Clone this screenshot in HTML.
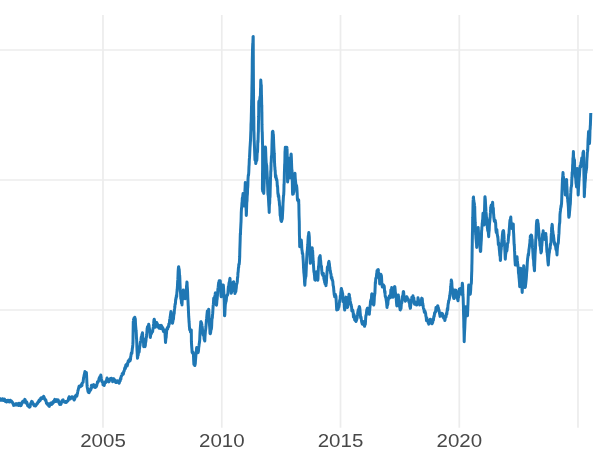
<!DOCTYPE html>
<html><head><meta charset="utf-8"><title>chart</title>
<style>
html,body{margin:0;padding:0;background:#fff;}
body{width:600px;height:450px;overflow:hidden;position:relative;font-family:"Liberation Sans",sans-serif;}
svg{position:absolute;left:0;top:0;display:block;will-change:transform;}
.t{font-family:"Liberation Sans",sans-serif;font-size:19.1px;fill:#484848;text-anchor:middle;}
</style></head><body>
<svg width="600" height="450" viewBox="0 0 600 450">
<rect width="600" height="450" fill="#ffffff"/>
<g stroke="#ececec" stroke-width="1.7" fill="none">
<line x1="103" y1="15" x2="103" y2="427.8"/>
<line x1="221.8" y1="15" x2="221.8" y2="427.8"/>
<line x1="340.5" y1="15" x2="340.5" y2="427.8"/>
<line x1="459.3" y1="15" x2="459.3" y2="427.8"/>
<line x1="578" y1="15" x2="578" y2="427.8"/>
<line x1="0" y1="50" x2="593" y2="50"/>
<line x1="0" y1="180" x2="593" y2="180"/>
<line x1="0" y1="310" x2="593" y2="310"/>
</g>
<polyline points="-2.00,399.50 -1.83,399.40 -1.67,399.32 -1.50,398.75 -1.33,399.60 -1.17,400.40 -1.00,400.64 -0.83,399.68 -0.67,400.11 -0.50,399.01 -0.33,398.47 -0.17,398.76 0.00,399.20 0.17,399.59 0.33,399.31 0.50,399.87 0.67,399.62 0.83,399.55 1.00,400.17 1.17,400.03 1.33,399.85 1.50,399.46 1.67,399.93 1.83,400.13 2.00,398.92 2.17,399.02 2.33,399.54 2.50,398.70 2.67,399.17 2.83,400.16 3.00,400.25 3.17,400.54 3.33,400.37 3.50,399.70 3.67,400.60 3.83,399.59 4.00,400.59 4.17,399.28 4.33,399.53 4.50,399.10 4.67,399.52 4.83,399.70 5.00,400.80 5.17,401.39 5.34,400.56 5.51,401.45 5.68,400.34 5.85,401.15 6.02,401.26 6.19,400.61 6.36,401.22 6.53,401.68 6.70,402.00 6.87,401.28 7.03,401.73 7.20,400.86 7.37,401.59 7.53,400.39 7.70,400.26 7.87,400.71 8.03,401.30 8.20,400.50 8.37,401.00 8.53,400.97 8.70,400.81 8.87,400.42 9.03,400.55 9.20,400.80 9.36,401.95 9.52,401.43 9.68,401.19 9.84,400.74 10.00,401.77 10.16,400.77 10.32,400.82 10.48,400.30 10.64,400.35 10.80,401.70 10.97,401.50 11.13,401.52 11.30,400.96 11.47,401.12 11.63,401.29 11.80,401.59 11.97,401.62 12.13,401.79 12.30,401.96 12.47,402.38 12.63,403.01 12.80,403.30 12.97,403.38 13.13,404.09 13.30,404.20 13.47,404.65 13.63,405.37 13.80,405.33 13.97,405.30 14.13,405.27 14.30,405.09 14.47,405.20 14.63,404.32 14.80,404.92 14.97,405.10 15.13,405.07 15.30,405.03 15.47,404.84 15.63,404.97 15.80,403.70 15.97,403.57 16.14,403.76 16.31,404.70 16.48,404.94 16.65,404.94 16.82,404.94 16.99,404.94 17.16,404.94 17.33,404.94 17.50,403.70 17.67,404.14 17.83,404.36 18.00,404.63 18.17,404.82 18.33,405.36 18.50,405.45 18.67,404.79 18.83,403.72 19.00,403.25 19.17,403.34 19.33,403.43 19.50,404.47 19.67,405.05 19.83,405.14 20.00,405.00 20.17,404.17 20.33,405.10 20.50,405.37 20.67,405.73 20.83,404.96 21.00,405.48 21.17,405.35 21.33,404.75 21.50,404.23 21.67,402.92 21.83,402.76 22.00,403.50 22.17,402.02 22.33,401.80 22.50,401.58 22.67,401.36 22.83,401.79 23.00,401.64 23.17,401.80 23.33,401.14 23.50,402.00 23.67,401.86 23.83,400.78 24.00,401.60 24.17,401.53 24.33,400.46 24.50,400.20 24.67,400.13 24.83,399.39 25.00,399.94 25.17,399.70 25.33,401.08 25.50,401.47 25.67,401.84 25.83,402.94 26.00,402.85 26.17,401.47 26.33,401.65 26.50,402.50 26.67,401.87 26.83,402.36 27.00,402.39 27.17,404.09 27.33,403.59 27.50,405.01 27.67,405.59 27.83,405.85 28.00,405.10 28.17,405.36 28.33,405.17 28.50,405.77 28.67,406.49 28.83,406.57 29.00,406.90 29.17,406.78 29.33,407.00 29.50,407.30 29.67,406.86 29.83,406.78 30.00,406.72 30.17,406.66 30.33,405.05 30.50,404.08 30.67,403.51 30.83,403.14 31.00,402.77 31.17,402.41 31.33,402.04 31.50,401.67 31.67,401.31 31.83,401.48 32.00,401.80 32.17,401.88 32.33,401.85 32.50,402.43 32.67,402.46 32.83,403.46 33.00,403.70 33.17,403.64 33.33,404.47 33.50,403.87 33.67,404.28 33.83,404.98 34.00,405.37 34.17,405.57 34.33,405.76 34.50,405.52 34.67,405.70 34.83,405.58 35.00,405.30 35.17,405.52 35.33,405.20 35.50,405.95 35.67,405.76 35.83,405.57 36.00,405.37 36.17,405.18 36.33,404.98 36.50,404.36 36.67,403.78 36.83,403.64 37.00,403.90 37.17,404.01 37.33,403.71 37.50,402.84 37.67,402.62 37.83,402.79 38.00,401.80 38.17,401.64 38.33,401.57 38.50,402.02 38.67,401.94 38.83,401.79 39.00,401.09 39.17,400.04 39.33,400.11 39.50,399.91 39.67,400.20 39.83,400.15 40.00,400.03 40.17,400.50 40.33,399.98 40.50,399.70 40.67,398.38 40.83,398.11 41.00,397.96 41.17,398.36 41.33,398.58 41.50,398.80 41.67,397.89 41.83,397.93 42.00,397.78 42.17,397.94 42.33,397.92 42.50,397.90 42.67,398.35 42.83,398.14 43.00,397.60 43.17,398.04 43.33,397.09 43.50,397.12 43.67,396.20 43.83,396.99 44.00,396.80 44.17,397.91 44.33,398.50 44.50,398.14 44.67,399.20 44.83,398.84 45.00,398.93 45.17,400.12 45.33,399.88 45.50,400.00 45.67,400.27 45.83,399.84 46.00,401.43 46.17,401.12 46.33,402.63 46.50,403.30 46.67,403.38 46.83,403.55 47.00,403.66 47.17,404.12 47.33,403.68 47.50,403.51 47.67,404.18 47.83,404.02 48.00,403.56 48.17,403.91 48.33,404.44 48.50,404.13 48.67,405.97 48.83,405.95 49.00,406.20 49.17,406.21 49.33,406.40 49.50,405.30 49.67,405.12 49.83,404.25 50.00,403.67 50.17,403.96 50.33,404.12 50.50,403.27 50.67,403.14 50.83,403.00 51.00,402.87 51.17,403.20 51.33,403.12 51.50,403.97 51.67,404.39 51.83,404.21 52.00,402.85 52.17,403.27 52.33,403.59 52.50,403.71 52.67,402.54 52.83,403.36 53.00,402.50 53.17,401.53 53.33,402.54 53.50,402.57 53.67,402.08 53.83,402.30 54.00,401.47 54.17,401.53 54.33,400.50 54.50,399.99 54.67,399.77 54.83,399.39 55.00,400.20 55.17,400.87 55.33,401.00 55.50,401.54 55.67,401.56 55.83,401.21 56.00,400.83 56.17,400.14 56.33,400.25 56.50,399.96 56.67,399.85 56.83,400.27 57.00,399.89 57.17,400.55 57.33,400.85 57.50,401.14 57.67,400.75 57.83,400.40 58.00,400.60 58.17,399.86 58.33,400.36 58.50,400.88 58.67,401.11 58.83,401.83 59.00,403.05 59.17,402.89 59.33,403.54 59.50,404.07 59.67,404.32 59.83,404.11 60.00,403.77 60.17,403.89 60.33,403.87 60.50,404.30 60.67,404.46 60.83,403.40 61.00,403.43 61.17,403.87 61.33,402.52 61.50,402.46 61.67,402.31 61.83,400.98 62.00,400.71 62.17,400.66 62.33,400.83 62.50,400.52 62.67,399.95 62.83,400.57 63.00,400.20 63.17,399.86 63.33,400.89 63.50,401.61 63.67,401.63 63.83,401.59 64.00,401.90 64.17,401.98 64.33,401.76 64.50,402.03 64.67,402.19 64.83,402.26 65.00,402.08 65.17,401.69 65.33,401.63 65.50,401.88 65.67,401.77 65.83,402.50 66.00,401.50 66.17,402.60 66.33,402.42 66.50,402.23 66.67,402.05 66.83,401.87 67.00,401.68 67.17,401.50 67.33,401.32 67.50,401.13 67.67,400.74 67.83,400.54 68.00,400.40 68.17,400.40 68.33,400.22 68.50,398.49 68.67,397.83 68.83,398.04 69.00,398.20 69.17,396.81 69.33,397.31 69.50,397.66 69.67,397.78 69.83,398.48 70.00,398.87 70.17,398.97 70.33,398.87 70.50,398.81 70.67,397.93 70.83,397.85 71.00,397.93 71.17,397.68 71.33,397.18 71.50,397.59 71.67,397.17 71.83,396.77 72.00,396.80 72.17,397.38 72.33,396.96 72.50,397.04 72.67,397.88 72.83,397.68 73.00,397.34 73.17,397.28 73.33,397.10 73.50,398.94 73.67,398.92 73.83,399.14 74.00,399.87 74.17,400.01 74.33,399.13 74.50,399.00 74.67,399.43 74.83,397.98 75.00,398.36 75.17,397.31 75.33,397.20 75.50,395.84 75.67,395.54 75.83,395.47 76.00,395.12 76.17,396.48 76.33,395.78 76.50,395.94 76.67,396.30 76.83,396.02 77.00,395.67 77.17,394.07 77.33,393.82 77.50,393.50 77.67,391.85 77.83,391.32 78.00,390.15 78.17,390.15 78.33,389.23 78.50,388.50 78.67,387.91 78.83,387.65 79.00,386.96 79.17,386.18 79.33,385.96 79.50,386.82 79.67,386.46 79.83,386.77 80.00,386.50 80.17,385.93 80.34,386.30 80.51,386.80 80.68,386.37 80.85,385.96 81.02,385.62 81.19,385.16 81.36,384.49 81.53,384.42 81.70,385.80 81.86,385.15 82.02,385.44 82.18,382.97 82.34,382.89 82.50,382.84 82.66,383.03 82.82,382.56 82.98,382.58 83.14,382.07 83.30,380.00 83.46,379.14 83.62,377.39 83.79,376.88 83.95,376.89 84.11,375.11 84.27,374.80 84.44,374.54 84.60,373.00 84.77,373.37 84.95,371.43 85.12,373.17 85.30,372.20 85.46,372.66 85.61,373.93 85.77,373.37 85.93,373.13 86.09,373.38 86.24,373.92 86.40,372.60 86.56,375.04 86.72,378.50 86.88,382.42 87.04,385.25 87.20,387.00 87.37,387.94 87.54,388.43 87.71,389.71 87.89,390.85 88.06,391.59 88.23,391.73 88.40,391.70 88.56,392.38 88.72,391.93 88.88,392.33 89.04,392.61 89.20,391.80 89.36,392.37 89.52,391.28 89.68,390.32 89.84,390.96 90.00,390.50 90.17,390.58 90.34,389.29 90.51,389.70 90.68,389.84 90.85,389.41 91.02,388.91 91.19,387.00 91.36,386.36 91.53,385.30 91.70,386.00 91.87,386.16 92.03,387.32 92.20,387.25 92.37,387.19 92.53,387.12 92.70,387.05 92.87,386.46 93.03,385.86 93.20,385.62 93.37,384.75 93.53,384.88 93.70,384.68 93.87,385.12 94.03,385.13 94.20,385.00 94.36,385.61 94.52,386.27 94.68,386.96 94.84,387.13 95.00,387.30 95.16,387.47 95.32,386.91 95.48,387.09 95.64,386.62 95.80,386.70 95.97,386.21 96.14,386.98 96.31,386.35 96.48,386.17 96.65,385.67 96.82,385.17 96.99,384.35 97.16,383.18 97.33,383.40 97.50,381.70 97.67,381.66 97.84,382.39 98.01,382.20 98.18,381.86 98.35,381.52 98.52,381.18 98.69,380.71 98.86,379.50 99.03,379.03 99.20,378.30 99.36,377.67 99.52,378.03 99.68,377.50 99.84,376.74 100.00,377.43 100.16,377.85 100.32,377.55 100.48,376.84 100.64,375.83 100.80,375.00 100.97,376.04 101.14,377.06 101.31,378.42 101.49,379.40 101.66,381.16 101.83,380.51 102.00,381.70 102.17,381.24 102.34,381.51 102.51,381.79 102.68,381.90 102.85,383.16 103.02,384.77 103.19,384.71 103.36,384.59 103.53,384.35 103.70,385.00 103.86,384.97 104.02,384.98 104.18,385.57 104.35,384.22 104.51,384.14 104.67,382.69 104.83,382.54 104.99,381.99 105.15,382.66 105.32,381.81 105.48,382.06 105.64,382.05 105.80,382.50 105.97,382.34 106.15,381.97 106.33,380.91 106.50,380.56 106.67,379.96 106.85,378.88 107.03,378.02 107.20,378.70 107.37,380.39 107.53,380.57 107.70,380.75 107.87,380.92 108.03,381.10 108.20,381.27 108.37,381.45 108.53,381.62 108.70,381.74 108.87,381.16 109.03,381.88 109.20,380.80 109.36,381.40 109.52,380.08 109.68,379.45 109.84,379.04 110.00,379.11 110.16,379.73 110.32,379.05 110.48,378.49 110.64,379.06 110.80,379.20 110.97,379.10 111.14,378.62 111.31,378.34 111.48,378.32 111.65,378.61 111.82,379.07 111.99,378.80 112.16,378.96 112.33,379.57 112.50,380.80 112.67,381.78 112.84,380.67 113.01,379.65 113.18,380.25 113.35,378.88 113.52,379.16 113.69,378.72 113.86,380.03 114.03,379.99 114.20,380.00 114.37,380.96 114.53,379.98 114.70,379.73 114.87,380.06 115.03,381.10 115.20,381.50 115.37,381.19 115.53,382.27 115.70,382.53 115.87,381.91 116.03,382.34 116.20,381.77 116.37,382.51 116.53,381.98 116.70,381.70 116.87,381.89 117.03,382.09 117.20,381.47 117.37,380.84 117.53,381.93 117.70,381.63 117.87,381.16 118.03,380.94 118.20,381.03 118.37,381.12 118.53,381.82 118.70,382.80 118.86,383.04 119.02,382.22 119.18,383.23 119.34,382.40 119.50,382.03 119.66,381.45 119.82,380.46 119.98,380.91 120.14,381.02 120.30,379.20 120.47,378.40 120.65,378.83 120.83,379.29 121.00,378.01 121.17,376.49 121.35,375.93 121.53,376.03 121.70,375.80 121.86,375.51 122.02,374.69 122.18,373.74 122.34,375.01 122.50,374.12 122.66,373.47 122.82,373.10 122.98,373.51 123.14,372.90 123.30,374.20 123.47,373.39 123.64,372.22 123.81,371.24 123.98,371.43 124.15,371.21 124.32,370.31 124.49,369.67 124.66,368.22 124.83,368.46 125.00,367.50 125.17,367.95 125.34,368.49 125.51,367.89 125.68,365.58 125.85,364.97 126.02,364.80 126.19,364.63 126.36,364.46 126.53,364.85 126.70,365.80 126.86,365.98 127.02,366.02 127.18,366.02 127.34,365.14 127.50,365.02 127.66,364.14 127.82,363.19 127.98,362.37 128.14,361.32 128.30,360.80 128.47,360.96 128.64,361.32 128.81,360.88 128.98,361.65 129.15,361.04 129.32,360.78 129.49,360.42 129.66,359.12 129.83,360.30 130.00,360.80 130.17,360.11 130.34,359.85 130.51,359.63 130.68,356.61 130.85,356.53 131.02,355.00 131.19,353.75 131.36,353.00 131.53,352.67 131.70,353.30 131.86,353.36 132.02,351.83 132.19,350.03 132.35,348.30 132.51,347.96 132.68,346.17 132.84,344.45 133.00,341.70 133.04,336.71 133.09,333.83 133.13,330.94 133.17,329.38 133.21,326.73 133.26,323.23 133.30,321.50 133.47,321.08 133.63,320.05 133.80,318.56 133.97,319.69 134.13,318.58 134.30,317.86 134.47,317.63 134.63,318.10 134.80,317.21 134.97,320.13 135.13,319.49 135.30,318.70 135.48,323.48 135.66,326.08 135.84,328.09 136.02,330.25 136.20,331.70 136.34,334.63 136.49,338.07 136.63,339.51 136.78,343.01 136.92,347.51 137.07,350.92 137.21,352.83 137.36,356.56 137.50,358.30 137.67,357.48 137.84,355.27 138.01,355.16 138.18,355.21 138.35,353.49 138.52,352.52 138.69,351.86 138.86,351.30 139.03,352.19 139.20,351.70 139.36,348.91 139.52,348.92 139.68,346.78 139.84,346.03 140.00,345.79 140.16,344.03 140.32,342.78 140.48,341.78 140.64,341.48 140.80,341.70 140.97,340.41 141.14,338.17 141.31,337.00 141.48,338.27 141.65,337.66 141.82,335.47 141.99,334.24 142.16,334.52 142.33,334.24 142.50,332.80 142.67,335.35 142.84,338.00 143.01,338.36 143.19,338.74 143.36,340.92 143.53,342.71 143.70,346.70 143.86,346.37 144.02,344.78 144.19,344.78 144.35,344.78 144.51,345.70 144.68,345.48 144.84,345.18 145.00,346.70 145.17,345.95 145.34,345.39 145.51,342.63 145.68,342.26 145.85,341.41 146.02,340.10 146.19,337.70 146.36,337.50 146.53,336.55 146.70,335.00 146.86,332.83 147.02,330.54 147.18,328.18 147.34,328.44 147.50,326.70 147.67,327.29 147.84,327.07 148.01,327.80 148.19,327.45 148.36,326.08 148.53,325.64 148.70,324.20 148.86,324.98 149.02,325.37 149.18,327.46 149.34,328.05 149.50,329.26 149.66,330.50 149.82,331.85 149.98,332.73 150.14,334.59 150.30,337.50 150.47,336.57 150.64,335.12 150.81,334.51 150.98,333.65 151.15,333.66 151.32,333.82 151.48,333.55 151.65,332.85 151.82,332.47 151.99,332.25 152.16,331.73 152.33,331.81 152.50,331.70 152.67,331.19 152.84,329.44 153.01,329.08 153.18,327.72 153.35,326.96 153.52,324.73 153.69,323.43 153.86,320.89 154.03,320.26 154.20,319.20 154.36,319.72 154.51,320.29 154.67,321.33 154.83,323.23 154.99,323.67 155.14,325.43 155.30,326.70 155.47,327.13 155.64,326.26 155.81,324.79 155.98,325.76 156.15,324.06 156.32,324.95 156.49,325.46 156.66,324.28 156.83,322.47 157.00,324.20 157.17,325.56 157.34,324.27 157.51,324.14 157.68,325.03 157.85,325.34 158.02,325.43 158.18,326.03 158.35,325.89 158.52,327.51 158.69,326.38 158.86,326.32 159.03,327.65 159.20,328.30 159.36,327.22 159.52,327.35 159.68,327.09 159.84,325.51 160.00,326.58 160.16,326.81 160.32,328.26 160.48,327.61 160.64,328.58 160.80,326.70 160.97,326.79 161.13,326.77 161.30,325.38 161.47,325.66 161.63,325.93 161.80,326.52 161.97,328.96 162.13,328.88 162.30,328.09 162.47,327.59 162.63,327.57 162.80,327.85 162.97,328.65 163.13,330.03 163.30,330.80 163.47,331.49 163.64,331.42 163.81,331.51 163.98,329.70 164.15,329.95 164.32,330.20 164.49,330.45 164.66,330.70 164.83,331.56 165.00,333.30 165.17,336.34 165.33,338.92 165.50,342.50 165.67,340.53 165.84,338.66 166.01,338.13 166.19,337.24 166.36,334.16 166.53,332.99 166.70,330.00 166.86,328.99 167.02,328.64 167.18,328.83 167.34,327.67 167.50,328.67 167.66,329.15 167.82,327.88 167.98,327.11 168.14,326.52 168.30,326.70 168.47,326.62 168.64,326.74 168.81,324.05 168.98,323.75 169.15,324.65 169.32,323.87 169.49,322.32 169.66,319.71 169.83,319.37 170.00,318.30 170.16,316.97 170.32,315.97 170.48,315.09 170.64,313.76 170.80,312.50 170.97,311.41 171.14,312.39 171.31,314.70 171.48,315.74 171.65,316.44 171.82,318.21 171.99,319.00 172.16,320.16 172.33,322.64 172.50,323.30 172.67,322.30 172.84,321.84 173.01,320.00 173.19,319.51 173.36,319.35 173.53,318.44 173.70,315.00 173.86,315.15 174.02,313.59 174.19,313.61 174.35,310.71 174.51,309.00 174.68,308.28 174.84,307.01 175.00,305.00 175.17,303.66 175.34,304.02 175.51,302.04 175.68,299.21 175.85,299.83 176.02,297.55 176.19,298.04 176.36,295.89 176.53,295.06 176.70,296.70 176.86,292.83 177.02,291.23 177.18,289.76 177.34,287.61 177.50,285.00 177.66,281.31 177.82,279.65 177.98,276.32 178.14,271.58 178.30,269.30 178.48,267.33 178.66,266.77 178.84,268.25 179.02,269.55 179.20,269.30 179.36,271.79 179.52,275.89 179.68,275.40 179.84,278.39 180.00,283.30 180.16,287.02 180.32,291.37 180.48,292.58 180.64,294.42 180.80,298.30 180.97,298.98 181.14,299.27 181.31,300.29 181.49,303.08 181.66,302.59 181.83,301.93 182.00,305.00 182.16,301.35 182.32,298.87 182.49,298.09 182.65,299.63 182.81,297.74 182.98,296.26 183.14,293.97 183.30,290.00 183.47,291.40 183.64,292.56 183.81,292.93 183.98,291.93 184.15,293.31 184.32,294.12 184.49,296.55 184.66,297.29 184.83,297.35 185.00,298.30 185.17,298.62 185.35,296.54 185.52,295.46 185.69,294.01 185.86,291.89 186.04,291.59 186.21,290.53 186.38,289.04 186.55,285.99 186.73,284.78 186.90,282.00 187.05,282.34 187.20,286.04 187.35,287.88 187.50,290.00 187.63,292.74 187.77,297.16 187.90,299.51 188.03,301.83 188.17,305.31 188.30,306.70 188.43,310.62 188.57,313.47 188.70,316.70 188.87,318.54 189.03,321.74 189.20,323.22 189.37,326.57 189.53,327.91 189.70,330.00 189.86,329.30 190.02,330.13 190.18,329.51 190.34,330.71 190.50,331.95 190.66,332.12 190.82,332.12 190.98,332.12 191.14,330.67 191.30,330.00 191.33,333.07 191.35,335.10 191.38,339.37 191.40,341.70 191.57,344.39 191.75,347.15 191.93,349.24 192.10,352.50 192.26,352.25 192.43,353.07 192.59,353.06 192.75,351.85 192.91,351.97 193.07,352.97 193.24,353.05 193.40,354.00 193.53,356.68 193.65,359.96 193.78,362.49 193.90,364.50 194.07,364.06 194.24,363.90 194.41,363.69 194.59,364.45 194.76,365.57 194.93,365.32 195.10,364.50 195.28,363.70 195.45,360.55 195.62,358.83 195.80,356.70 195.98,354.16 196.16,352.05 196.34,351.40 196.52,348.66 196.70,347.50 196.86,347.72 197.02,348.31 197.18,348.70 197.34,349.54 197.50,349.26 197.66,350.90 197.82,351.05 197.98,352.64 198.14,352.51 198.30,351.70 198.48,350.84 198.65,348.34 198.82,346.94 199.00,345.98 199.18,343.95 199.35,343.13 199.52,342.06 199.70,340.00 199.86,336.12 200.01,332.66 200.17,330.05 200.33,327.73 200.49,325.93 200.64,324.02 200.80,321.70 200.97,321.57 201.14,321.98 201.31,323.95 201.48,322.85 201.65,323.68 201.82,324.51 201.99,325.75 202.16,326.80 202.33,327.98 202.50,330.00 202.66,331.73 202.83,333.40 202.99,333.89 203.16,335.13 203.32,335.01 203.49,334.43 203.65,335.26 203.81,334.69 203.98,336.21 204.14,339.17 204.31,338.71 204.47,340.01 204.64,340.44 204.80,341.00 204.97,336.82 205.13,334.90 205.30,332.59 205.47,330.56 205.63,329.88 205.80,328.30 205.97,326.48 206.14,323.81 206.31,321.68 206.48,319.42 206.65,318.24 206.82,316.43 206.99,314.44 207.16,312.78 207.33,311.12 207.50,311.70 207.67,313.04 207.84,313.34 208.01,312.98 208.19,311.53 208.36,310.20 208.53,310.68 208.70,309.20 208.86,311.19 209.02,315.25 209.19,318.03 209.35,322.82 209.51,325.08 209.68,327.17 209.84,329.42 210.00,333.30 210.17,333.66 210.34,333.77 210.51,332.94 210.68,332.11 210.85,330.20 211.02,329.69 211.19,329.62 211.36,328.79 211.53,327.79 211.70,325.00 211.86,320.97 212.02,318.76 212.18,318.33 212.34,317.83 212.50,315.00 212.67,313.69 212.84,310.92 213.01,308.12 213.19,305.35 213.36,304.15 213.53,301.52 213.70,298.30 213.86,298.82 214.02,299.11 214.18,299.33 214.34,298.83 214.50,298.33 214.66,296.72 214.82,296.75 214.98,295.61 215.14,294.66 215.30,293.30 215.47,292.83 215.63,296.83 215.80,298.13 215.97,300.38 216.13,303.04 216.30,305.00 216.47,305.08 216.64,304.03 216.81,301.85 216.99,299.62 217.16,299.06 217.33,296.49 217.50,295.00 217.67,293.12 217.84,289.53 218.01,288.11 218.18,287.14 218.35,285.27 218.52,283.85 218.69,282.43 218.86,282.02 219.03,281.65 219.20,280.80 219.36,281.13 219.51,282.46 219.67,281.34 219.83,281.02 219.99,283.51 220.14,283.51 220.30,280.80 220.48,285.41 220.66,288.78 220.84,292.42 221.02,296.13 221.20,296.70 221.37,295.34 221.53,291.48 221.70,291.37 221.87,288.38 222.03,285.95 222.20,285.00 222.36,287.19 222.51,286.67 222.67,286.82 222.83,286.23 222.99,285.15 223.14,286.57 223.30,285.00 223.48,286.80 223.66,289.91 223.84,292.55 224.02,298.32 224.20,300.00 224.26,302.25 224.32,305.69 224.38,308.56 224.44,311.54 224.50,315.80 224.66,315.80 224.82,314.65 224.99,310.39 225.15,307.62 225.31,304.61 225.48,303.79 225.64,303.15 225.80,301.70 225.97,301.81 226.14,301.14 226.31,300.03 226.48,297.55 226.65,296.62 226.82,295.87 226.99,295.04 227.16,295.59 227.33,294.80 227.50,295.00 227.67,294.76 227.84,293.98 228.01,291.34 228.19,288.92 228.36,286.79 228.53,286.49 228.70,286.70 228.86,285.00 229.02,283.25 229.19,282.15 229.35,282.88 229.51,282.48 229.68,279.91 229.84,278.74 230.00,278.30 230.17,281.17 230.34,284.54 230.51,285.57 230.69,286.49 230.86,288.30 231.03,291.05 231.20,293.30 231.36,292.77 231.52,292.57 231.69,290.79 231.85,286.87 232.01,286.27 232.18,283.58 232.34,283.05 232.50,283.30 232.67,282.67 232.84,282.76 233.01,283.63 233.19,282.15 233.36,282.73 233.53,282.60 233.70,281.70 233.86,283.55 234.02,285.41 234.18,288.69 234.34,289.55 234.50,291.70 234.66,290.28 234.82,291.85 234.99,293.50 235.15,291.19 235.31,292.67 235.48,290.01 235.64,291.66 235.80,291.70 235.97,290.19 236.14,288.89 236.31,287.61 236.49,284.89 236.66,283.86 236.83,283.97 237.00,283.30 237.16,282.52 237.32,281.45 237.49,277.64 237.65,277.97 237.81,275.88 237.98,272.47 238.14,272.40 238.30,270.00 238.48,267.45 238.65,267.49 238.82,264.22 239.00,264.16 239.18,264.31 239.35,262.57 239.52,260.14 239.70,256.70 239.77,252.36 239.85,249.22 239.93,247.18 240.00,245.00 240.12,241.50 240.23,236.95 240.35,233.26 240.47,234.65 240.58,229.93 240.70,228.00 240.81,225.74 240.93,223.42 241.04,221.66 241.16,217.30 241.27,212.54 241.39,210.48 241.50,208.00 241.66,207.82 241.82,205.22 241.98,202.72 242.14,202.43 242.30,198.00 242.48,198.10 242.66,197.33 242.84,195.29 243.02,193.59 243.20,196.00 243.35,199.18 243.50,199.27 243.65,202.37 243.80,206.00 243.98,204.50 244.15,199.46 244.32,197.69 244.50,195.00 244.66,192.68 244.82,191.95 244.98,189.85 245.14,186.62 245.30,182.50 245.39,184.15 245.48,190.96 245.57,195.19 245.66,194.55 245.75,198.48 245.85,202.08 245.94,205.31 246.03,206.41 246.12,209.35 246.21,211.39 246.30,215.50 246.44,212.89 246.59,207.73 246.73,203.41 246.87,201.36 247.01,201.18 247.16,196.70 247.30,195.00 247.44,193.89 247.59,188.30 247.73,187.43 247.87,184.99 248.01,179.40 248.16,176.98 248.30,175.00 248.47,175.49 248.63,174.07 248.80,171.57 248.97,166.62 249.13,164.77 249.30,160.00 249.48,157.88 249.66,154.81 249.84,151.04 250.02,147.49 250.20,145.00 250.34,142.57 250.48,140.58 250.62,136.90 250.76,132.82 250.90,130.00 250.99,124.61 251.07,123.06 251.16,121.63 251.25,118.84 251.34,114.41 251.43,111.65 251.51,106.47 251.60,105.00 251.65,100.27 251.69,99.61 251.74,101.09 251.79,96.64 251.83,94.00 251.88,91.93 251.93,86.77 251.97,86.09 252.02,83.09 252.07,80.09 252.11,77.09 252.16,74.09 252.21,71.09 252.25,64.21 252.30,60.00 252.41,55.22 252.53,49.59 252.64,46.04 252.75,43.38 252.86,43.83 252.97,40.68 253.09,36.64 253.20,36.50 253.22,38.17 253.23,44.50 253.25,43.80 253.27,51.21 253.28,54.68 253.30,55.45 253.32,62.63 253.33,65.60 253.35,68.57 253.37,71.54 253.38,73.89 253.40,77.49 253.42,80.46 253.43,83.43 253.45,86.40 253.47,89.38 253.48,89.82 253.50,90.00 253.53,94.16 253.56,100.51 253.59,103.99 253.62,107.07 253.65,109.03 253.68,112.03 253.72,114.69 253.75,119.38 253.78,117.58 253.81,116.53 253.84,122.60 253.87,125.75 253.90,130.00 254.00,131.78 254.10,137.30 254.20,141.09 254.30,142.48 254.40,145.00 254.54,148.42 254.68,152.49 254.82,156.05 254.96,159.97 255.10,160.00 255.27,159.11 255.44,157.96 255.61,160.37 255.78,163.61 255.95,162.52 256.12,160.23 256.29,158.42 256.46,159.35 256.63,159.35 256.80,160.50 256.96,158.07 257.12,153.83 257.28,152.29 257.44,152.30 257.60,150.00 257.72,144.79 257.84,140.59 257.96,142.46 258.08,140.26 258.20,135.00 258.28,133.00 258.36,131.92 258.44,125.30 258.52,120.92 258.60,120.00 258.63,117.65 258.67,116.96 258.70,115.75 258.73,109.02 258.77,104.10 258.80,102.00 258.98,100.92 259.15,101.27 259.32,103.44 259.50,103.44 259.68,102.68 259.85,98.81 260.02,96.81 260.20,100.00 260.29,99.36 260.37,97.97 260.46,92.83 260.54,88.38 260.63,87.67 260.71,81.61 260.80,80.00 260.97,82.88 261.13,86.02 261.30,85.00 261.37,90.30 261.44,95.12 261.51,95.92 261.59,99.96 261.66,103.55 261.73,107.08 261.80,105.00 261.83,112.56 261.86,112.16 261.89,111.69 261.91,115.04 261.94,118.95 261.97,124.14 262.00,125.00 262.09,129.46 262.17,131.72 262.26,132.14 262.34,135.67 262.43,139.47 262.51,143.85 262.60,145.00 262.60,148.38 262.60,151.88 262.60,154.76 262.60,159.43 262.60,161.26 262.60,163.98 262.60,166.06 262.60,168.00 262.57,171.35 262.54,171.56 262.51,178.03 262.49,178.58 262.46,182.29 262.43,185.21 262.40,189.00 262.57,189.83 262.73,191.31 262.90,189.53 263.07,191.26 263.23,190.12 263.40,191.19 263.57,192.74 263.73,193.37 263.90,190.50 264.00,187.79 264.10,184.65 264.20,182.73 264.30,179.36 264.40,178.52 264.50,174.16 264.60,170.00 264.70,166.72 264.80,160.29 264.90,157.20 265.00,154.32 265.10,151.65 265.20,153.62 265.30,151.10 265.40,147.00 265.56,147.72 265.71,151.95 265.87,156.71 266.03,160.01 266.19,163.12 266.34,163.50 266.50,165.00 266.65,165.23 266.80,167.08 266.95,170.53 267.10,173.08 267.25,176.08 267.40,179.08 267.55,184.09 267.70,187.32 267.85,191.74 268.00,195.00 268.17,194.30 268.34,196.37 268.51,199.39 268.69,202.94 268.86,205.83 269.03,208.12 269.20,212.50 269.32,206.85 269.44,204.50 269.57,204.10 269.69,203.23 269.81,197.78 269.93,197.64 270.06,196.12 270.18,190.84 270.30,186.70 270.41,182.85 270.52,177.29 270.63,176.80 270.74,170.83 270.86,171.76 270.97,168.19 271.08,162.45 271.19,162.51 271.30,160.00 271.43,156.06 271.57,157.14 271.70,154.90 271.83,151.56 271.97,145.31 272.10,140.78 272.23,137.53 272.37,131.92 272.50,131.70 272.67,134.21 272.83,131.24 273.00,131.70 273.17,134.71 273.34,134.24 273.51,138.04 273.69,143.00 273.86,147.20 274.03,150.34 274.20,153.30 274.33,154.30 274.47,161.22 274.60,163.54 274.73,166.47 274.87,167.11 275.00,170.00 275.17,170.41 275.33,173.96 275.50,177.23 275.67,175.52 275.83,175.21 276.00,176.73 276.17,178.83 276.33,177.98 276.50,180.00 276.66,179.27 276.83,179.80 276.99,180.89 277.15,183.08 277.32,186.38 277.48,185.68 277.65,187.66 277.81,192.02 277.97,194.21 278.14,193.29 278.30,196.70 278.47,194.96 278.64,195.40 278.81,196.59 278.99,200.07 279.16,200.33 279.33,202.21 279.50,205.00 279.66,205.77 279.82,206.80 279.99,210.84 280.15,215.48 280.31,214.86 280.48,216.61 280.64,217.59 280.80,220.00 280.97,220.16 281.14,221.05 281.31,220.44 281.48,221.47 281.65,220.97 281.82,219.21 281.99,219.97 282.16,219.08 282.33,218.31 282.50,215.00 282.67,211.74 282.84,208.80 283.01,203.46 283.19,200.96 283.36,197.66 283.53,195.45 283.70,195.00 283.80,192.58 283.90,191.16 284.00,184.31 284.10,184.49 284.20,182.13 284.30,177.44 284.40,172.73 284.50,170.00 284.58,167.19 284.67,164.30 284.75,164.07 284.83,162.15 284.92,158.18 285.00,152.00 285.17,150.09 285.33,147.18 285.50,147.83 285.67,151.77 285.83,153.67 286.00,154.50 286.17,153.33 286.33,150.15 286.50,149.52 286.67,148.74 286.83,147.28 287.00,148.50 287.05,148.53 287.11,151.87 287.16,154.69 287.22,156.58 287.27,159.64 287.33,166.39 287.38,168.09 287.44,171.68 287.49,178.13 287.55,179.89 287.60,182.00 287.73,180.62 287.85,179.49 287.98,177.04 288.10,172.21 288.23,170.08 288.35,167.97 288.48,165.04 288.60,158.00 288.78,162.40 288.96,159.67 289.14,161.56 289.32,160.41 289.50,162.00 289.60,168.34 289.70,168.96 289.80,173.01 289.90,174.64 290.00,178.00 290.12,174.99 290.25,172.38 290.38,168.94 290.50,167.48 290.62,163.64 290.75,162.39 290.88,160.82 291.00,154.50 291.17,154.13 291.33,157.20 291.50,161.56 291.67,166.44 291.83,170.07 292.00,170.00 292.07,172.08 292.14,175.52 292.21,179.55 292.29,181.69 292.36,184.35 292.43,188.67 292.50,192.00 292.67,194.33 292.84,193.43 293.01,193.51 293.19,193.43 293.36,193.96 293.53,191.50 293.70,192.00 293.86,192.06 294.02,189.19 294.19,185.98 294.35,183.05 294.51,182.14 294.68,180.02 294.84,176.75 295.00,173.30 295.17,177.03 295.34,179.06 295.51,180.93 295.68,182.58 295.85,183.92 296.02,185.26 296.19,186.60 296.36,187.86 296.53,185.49 296.70,186.70 296.86,188.02 297.02,190.69 297.18,193.54 297.34,198.09 297.50,200.00 297.67,199.35 297.84,198.64 298.01,201.10 298.19,200.70 298.36,200.36 298.53,200.97 298.70,200.00 298.77,204.09 298.84,204.11 298.91,208.15 298.99,212.96 299.06,216.09 299.13,218.09 299.20,220.00 299.26,221.30 299.31,224.52 299.37,230.82 299.42,234.27 299.48,236.43 299.53,236.83 299.59,242.10 299.64,243.18 299.70,246.70 299.86,244.11 300.02,243.81 300.18,244.41 300.34,245.17 300.50,246.14 300.66,244.40 300.82,242.65 300.98,242.06 301.14,243.08 301.30,240.00 301.47,242.45 301.64,244.91 301.81,248.82 301.99,250.25 302.16,250.82 302.33,253.67 302.50,253.30 302.67,253.27 302.84,255.13 303.01,257.52 303.19,260.23 303.36,262.90 303.53,267.53 303.70,270.00 303.87,272.68 304.03,273.83 304.20,275.77 304.37,277.77 304.53,281.92 304.70,284.20 304.86,285.20 305.01,282.51 305.17,279.77 305.33,278.64 305.49,277.89 305.64,276.42 305.80,276.70 305.95,275.72 306.10,272.12 306.25,269.19 306.40,265.46 306.55,261.63 306.70,258.32 306.85,256.34 307.00,253.30 307.16,251.38 307.32,250.69 307.49,247.59 307.65,246.17 307.81,244.48 307.98,240.84 308.14,237.82 308.30,235.80 308.48,236.10 308.66,233.51 308.84,232.55 309.02,234.19 309.20,235.80 309.32,237.36 309.44,242.41 309.57,245.62 309.69,248.09 309.81,251.35 309.93,254.24 310.06,257.58 310.18,261.20 310.30,263.30 310.47,260.87 310.63,259.88 310.80,257.03 310.97,255.74 311.13,253.70 311.30,250.00 311.47,250.37 311.64,249.10 311.81,249.01 311.99,249.15 312.16,247.71 312.33,249.28 312.50,250.00 312.67,251.59 312.84,255.95 313.01,258.08 313.19,261.50 313.36,263.23 313.53,265.59 313.70,268.30 313.86,271.06 314.02,272.33 314.19,272.46 314.35,274.38 314.51,275.25 314.68,278.23 314.84,279.66 315.00,280.00 315.17,280.15 315.34,278.59 315.51,277.31 315.68,274.22 315.85,274.36 316.02,275.13 316.19,274.54 316.36,273.83 316.53,272.67 316.70,271.70 316.86,273.15 317.02,273.78 317.19,276.01 317.35,274.43 317.51,274.02 317.68,278.89 317.84,280.25 318.00,278.30 318.17,272.46 318.34,269.49 318.51,266.52 318.69,265.79 318.86,264.03 319.03,261.04 319.20,257.50 319.36,258.07 319.51,258.68 319.67,259.88 319.83,258.89 319.99,255.73 320.14,255.56 320.30,257.50 320.48,260.24 320.65,260.52 320.82,263.16 321.00,265.50 321.18,266.33 321.35,265.92 321.52,266.60 321.70,270.00 321.87,271.15 322.03,273.64 322.20,273.95 322.37,273.41 322.53,274.89 322.70,274.24 322.87,275.54 323.03,274.30 323.20,274.87 323.37,273.57 323.53,274.32 323.70,275.00 323.86,278.67 324.02,278.94 324.19,279.58 324.35,280.73 324.51,279.65 324.68,282.77 324.84,282.66 325.00,282.50 325.16,284.01 325.32,282.98 325.49,282.38 325.65,284.68 325.81,284.77 325.98,285.61 326.14,282.55 326.30,283.30 326.47,280.70 326.64,276.94 326.81,275.18 326.99,272.95 327.16,271.23 327.33,267.50 327.50,266.70 327.66,268.52 327.82,267.05 327.99,266.17 328.15,265.86 328.31,265.44 328.48,262.78 328.64,263.06 328.80,261.70 328.97,261.36 329.14,262.95 329.31,263.34 329.49,264.97 329.66,267.50 329.83,267.41 330.00,270.00 330.17,270.18 330.34,270.67 330.51,272.06 330.68,273.47 330.85,273.61 331.02,274.25 331.19,277.16 331.36,278.32 331.53,277.78 331.70,277.50 331.86,277.39 332.02,278.90 332.18,280.18 332.34,279.61 332.50,280.37 332.66,281.16 332.82,281.22 332.98,283.80 333.14,285.53 333.30,286.00 333.48,286.73 333.65,288.36 333.82,290.77 334.00,292.46 334.18,294.17 334.35,295.17 334.52,295.20 334.70,296.70 334.86,296.36 335.01,295.92 335.17,296.05 335.33,294.20 335.49,296.47 335.64,296.88 335.80,295.80 335.98,296.87 336.16,300.31 336.34,302.92 336.52,306.55 336.70,310.00 336.87,308.94 337.03,308.83 337.20,307.64 337.37,308.84 337.53,308.78 337.70,307.66 337.87,309.58 338.03,308.38 338.20,309.06 338.37,307.49 338.53,306.77 338.70,306.46 338.87,307.18 339.03,305.83 339.20,305.00 339.37,303.49 339.53,302.08 339.70,300.21 339.87,302.00 340.03,300.65 340.20,298.00 340.36,295.66 340.52,296.28 340.69,295.02 340.85,291.93 341.01,291.66 341.18,289.57 341.34,288.44 341.50,289.00 341.67,290.13 341.83,290.28 342.00,290.76 342.17,291.69 342.33,292.17 342.50,293.30 342.67,293.69 342.84,295.83 343.01,297.92 343.19,299.24 343.36,301.81 343.53,301.11 343.70,301.70 343.87,301.08 344.03,302.34 344.20,304.77 344.37,307.89 344.53,308.72 344.70,310.00 344.86,308.60 345.01,307.17 345.17,306.03 345.33,303.47 345.49,299.31 345.64,298.27 345.80,298.30 345.97,297.13 346.14,299.18 346.31,301.52 346.48,302.37 346.65,302.50 346.82,303.03 346.99,304.40 347.16,303.84 347.33,306.43 347.50,307.50 347.67,307.08 347.84,305.06 348.01,303.70 348.18,301.27 348.35,299.91 348.52,297.23 348.69,295.93 348.86,295.49 349.03,294.27 349.20,294.50 349.36,294.71 349.51,298.26 349.67,297.94 349.83,297.77 349.99,299.34 350.14,300.65 350.30,301.70 350.48,302.30 350.65,303.29 350.82,304.45 351.00,305.13 351.18,304.63 351.35,306.37 351.52,306.45 351.70,308.30 351.86,310.85 352.02,310.87 352.18,311.30 352.34,310.30 352.50,309.86 352.66,309.98 352.82,310.65 352.98,311.32 353.14,312.13 353.30,315.00 353.47,317.06 353.64,315.87 353.81,315.92 353.98,314.52 354.15,315.07 354.32,315.92 354.48,316.71 354.65,319.97 354.82,319.44 354.99,319.28 355.16,320.10 355.33,319.70 355.50,320.80 355.67,318.72 355.83,320.24 356.00,321.44 356.17,321.13 356.33,320.65 356.50,320.17 356.67,319.68 356.83,319.20 357.00,316.93 357.17,318.23 357.33,315.93 357.50,315.00 357.67,313.38 357.83,311.78 358.00,311.60 358.17,310.19 358.33,309.54 358.50,310.54 358.67,309.99 358.83,309.95 359.00,309.07 359.17,306.83 359.33,307.19 359.50,306.70 359.66,307.51 359.82,308.45 359.99,310.08 360.15,312.58 360.31,314.25 360.48,316.05 360.64,317.79 360.80,316.70 360.97,316.83 361.14,318.01 361.31,319.80 361.48,320.22 361.65,321.81 361.82,322.42 361.99,323.00 362.16,323.58 362.33,324.16 362.50,322.50 362.67,322.23 362.83,322.16 363.00,322.86 363.17,322.43 363.33,322.03 363.50,321.55 363.67,321.61 363.83,323.41 364.00,323.77 364.17,325.33 364.33,324.81 364.50,326.31 364.67,325.91 364.83,324.79 365.00,325.00 365.16,324.34 365.32,324.23 365.49,321.41 365.65,318.56 365.81,316.51 365.98,315.26 366.14,315.32 366.30,315.00 366.48,313.13 366.66,310.98 366.84,309.63 367.02,310.74 367.20,309.20 367.37,308.32 367.53,308.93 367.70,308.50 367.87,308.22 368.03,308.56 368.20,308.90 368.37,309.25 368.53,309.59 368.70,310.89 368.87,311.82 369.03,313.11 369.20,313.30 369.36,314.28 369.51,310.09 369.67,310.92 369.83,308.64 369.99,307.06 370.14,305.10 370.30,305.00 370.48,301.41 370.65,301.15 370.82,300.66 371.00,299.50 371.18,299.41 371.35,299.38 371.52,297.18 371.70,294.20 371.87,293.89 372.03,294.74 372.20,299.38 372.37,300.28 372.53,301.18 372.70,301.21 372.87,302.98 373.03,303.88 373.20,303.04 373.37,302.65 373.53,304.80 373.70,305.00 373.87,304.53 374.03,303.09 374.20,300.72 374.37,296.37 374.53,295.82 374.70,293.30 374.86,293.81 375.01,290.54 375.17,286.80 375.33,282.13 375.49,283.44 375.64,280.81 375.80,278.30 375.97,278.74 376.14,277.71 376.31,277.87 376.49,275.56 376.66,273.74 376.83,273.62 377.00,270.80 377.16,271.10 377.32,273.10 377.49,273.15 377.65,271.22 377.81,269.65 377.98,269.99 378.14,269.86 378.30,269.50 378.48,271.92 378.65,273.11 378.82,274.21 379.00,276.92 379.18,278.10 379.35,278.80 379.52,279.43 379.70,284.00 379.87,281.96 380.03,282.43 380.20,279.33 380.37,277.27 380.53,276.27 380.70,275.27 380.87,274.27 381.03,275.43 381.20,275.00 381.36,275.63 381.52,277.16 381.69,280.25 381.85,283.56 382.01,285.02 382.18,285.91 382.34,286.98 382.50,286.70 382.67,286.33 382.84,285.93 383.01,285.90 383.18,284.81 383.35,285.54 383.52,285.11 383.69,285.27 383.86,286.17 384.03,287.82 384.20,286.00 384.36,287.62 384.51,290.77 384.67,292.20 384.83,292.90 384.99,291.20 385.14,294.88 385.30,296.70 385.47,296.40 385.64,297.66 385.81,297.49 385.98,298.57 386.15,299.65 386.32,300.73 386.49,301.81 386.66,303.35 386.83,305.34 387.00,307.50 387.16,305.59 387.32,305.57 387.49,305.44 387.65,303.46 387.81,304.43 387.98,301.55 388.14,299.64 388.30,300.00 388.47,298.78 388.64,297.63 388.81,297.67 388.98,297.76 389.15,296.84 389.32,296.10 389.49,297.02 389.66,295.74 389.83,297.60 390.00,297.50 390.17,297.77 390.34,297.83 390.51,296.60 390.68,293.04 390.85,289.93 391.02,289.69 391.19,289.70 391.36,291.12 391.53,289.75 391.70,287.50 391.86,288.90 392.02,288.80 392.18,290.69 392.34,292.45 392.50,292.42 392.66,291.19 392.82,295.35 392.98,297.28 393.14,296.89 393.30,296.70 393.48,294.25 393.65,293.59 393.82,293.37 394.00,290.69 394.18,290.91 394.35,288.74 394.52,286.67 394.70,286.50 394.86,286.89 395.01,288.20 395.17,289.92 395.33,292.47 395.49,292.81 395.64,294.17 395.80,294.20 395.97,294.44 396.14,297.70 396.31,299.61 396.49,302.32 396.66,304.40 396.83,305.94 397.00,305.00 397.16,303.18 397.32,300.94 397.49,300.80 397.65,298.25 397.81,297.04 397.98,296.26 398.14,295.42 398.30,295.00 398.47,296.42 398.63,298.06 398.80,299.01 398.97,300.08 399.13,301.51 399.30,303.33 399.47,305.27 399.63,307.17 399.80,307.34 399.97,308.56 400.13,309.85 400.30,310.00 400.48,307.79 400.65,307.65 400.82,308.91 401.00,308.55 401.18,306.18 401.35,303.93 401.52,302.75 401.70,303.30 401.86,302.20 402.02,301.13 402.18,299.95 402.34,296.41 402.50,298.00 402.66,297.81 402.82,297.23 402.98,295.02 403.14,293.47 403.30,291.70 403.47,291.62 403.64,292.06 403.81,294.37 403.98,296.15 404.15,297.98 404.32,298.58 404.49,297.68 404.66,298.60 404.83,297.51 405.00,299.20 405.17,300.64 405.34,301.20 405.51,300.95 405.68,300.70 405.85,300.45 406.02,300.20 406.19,299.95 406.36,299.29 406.53,298.54 406.70,296.70 406.86,297.09 407.02,296.88 407.18,297.95 407.34,299.07 407.50,299.90 407.66,299.46 407.82,299.94 407.98,300.14 408.14,298.86 408.30,300.00 408.47,300.40 408.63,300.13 408.80,301.11 408.97,302.41 409.13,302.42 409.30,302.21 409.47,303.22 409.63,304.09 409.80,306.67 409.97,306.16 410.13,307.54 410.30,308.30 410.48,307.92 410.65,305.73 410.82,304.58 411.00,302.97 411.18,303.49 411.35,301.28 411.52,298.97 411.70,298.30 411.86,297.27 412.02,297.51 412.19,298.69 412.35,297.46 412.51,297.17 412.68,298.78 412.84,297.09 413.00,295.80 413.17,297.93 413.33,298.64 413.50,297.98 413.67,297.86 413.83,298.12 414.00,300.89 414.17,300.92 414.33,302.56 414.50,304.20 414.67,303.01 414.84,303.08 415.01,302.48 415.18,302.02 415.35,302.35 415.52,302.14 415.68,302.21 415.85,303.51 416.02,303.89 416.19,304.18 416.36,304.15 416.53,305.04 416.70,305.00 416.86,301.92 417.02,302.32 417.18,302.50 417.34,302.87 417.50,301.60 417.66,301.72 417.82,301.52 417.98,297.71 418.14,298.84 418.30,298.80 418.48,300.51 418.65,300.84 418.82,301.03 419.00,301.82 419.18,303.84 419.35,303.60 419.52,303.09 419.70,305.00 419.87,304.06 420.03,302.61 420.20,302.29 420.37,303.26 420.53,304.45 420.70,303.12 420.87,301.74 421.03,300.82 421.20,301.78 421.37,300.95 421.53,299.74 421.70,298.30 421.86,299.63 422.02,298.38 422.19,298.54 422.35,299.95 422.51,302.91 422.68,303.32 422.84,303.56 423.00,305.50 423.17,306.58 423.34,307.57 423.51,308.41 423.68,308.74 423.85,309.52 424.02,309.23 424.19,311.34 424.36,312.07 424.53,311.88 424.70,312.50 424.86,310.90 425.02,311.36 425.18,311.94 425.34,312.52 425.50,313.10 425.66,313.68 425.82,315.80 425.98,316.18 426.14,317.11 426.30,318.30 426.47,320.70 426.63,318.61 426.80,318.03 426.97,318.50 427.13,319.31 427.30,320.31 427.47,320.68 427.63,320.21 427.80,320.69 427.97,320.24 428.13,322.09 428.30,323.30 428.47,322.92 428.63,324.17 428.80,323.42 428.97,324.16 429.13,322.83 429.30,322.60 429.47,321.54 429.63,321.18 429.80,321.49 429.97,320.47 430.13,320.24 430.30,319.20 430.47,319.80 430.64,321.34 430.81,320.44 430.98,322.45 431.15,322.70 431.32,322.95 431.48,322.58 431.65,322.40 431.82,322.21 431.99,323.83 432.16,322.25 432.33,323.32 432.50,322.50 432.67,322.63 432.84,321.10 433.01,319.35 433.18,318.96 433.35,320.41 433.52,319.71 433.69,317.56 433.86,316.49 434.03,316.01 434.20,316.70 434.36,315.24 434.52,313.08 434.68,313.33 434.84,313.84 435.00,312.66 435.16,312.61 435.32,311.59 435.48,311.75 435.64,311.76 435.80,310.00 435.97,307.54 436.13,310.27 436.30,310.28 436.47,310.35 436.63,309.40 436.80,309.51 436.97,309.27 437.13,307.56 437.30,306.48 437.47,308.01 437.63,307.64 437.80,305.63 437.97,307.43 438.13,307.60 438.30,307.50 438.48,308.82 438.65,309.21 438.82,310.12 439.00,309.95 439.18,311.17 439.35,312.52 439.52,313.57 439.70,314.20 439.87,315.05 440.03,316.37 440.20,314.69 440.37,313.90 440.53,316.14 440.70,315.27 440.87,313.39 441.03,314.08 441.20,314.63 441.37,315.61 441.53,314.81 441.70,313.30 441.86,313.87 442.02,314.71 442.18,313.55 442.34,314.26 442.50,313.60 442.66,314.87 442.82,316.08 442.98,316.15 443.14,317.15 443.30,316.70 443.47,317.97 443.64,317.25 443.81,316.93 443.98,316.47 444.15,316.72 444.32,316.42 444.49,316.75 444.66,318.63 444.83,320.50 445.00,320.00 445.17,318.61 445.34,317.81 445.51,316.54 445.68,317.41 445.85,316.34 446.02,317.09 446.19,315.45 446.36,313.61 446.53,313.23 446.70,314.20 446.86,314.07 447.02,311.40 447.18,310.56 447.34,308.55 447.50,310.28 447.66,309.68 447.82,308.68 447.98,305.38 448.14,304.13 448.30,303.30 448.47,302.58 448.64,300.66 448.81,300.64 448.98,300.40 449.15,299.87 449.32,298.69 449.49,298.14 449.66,296.17 449.83,295.48 450.00,294.20 450.16,292.90 450.32,291.35 450.49,291.15 450.65,287.40 450.81,286.28 450.98,284.12 451.14,282.40 451.30,280.00 451.47,280.70 451.64,281.44 451.81,282.87 451.99,286.74 452.16,287.49 452.33,290.46 452.50,290.00 452.67,289.24 452.84,290.26 453.01,293.23 453.19,296.59 453.36,296.68 453.53,296.19 453.70,298.30 453.86,297.59 454.02,298.59 454.19,297.72 454.35,295.74 454.51,292.38 454.68,292.66 454.84,292.52 455.00,290.00 455.17,290.99 455.34,292.42 455.51,291.42 455.68,290.84 455.85,290.20 456.02,290.43 456.19,290.93 456.36,292.68 456.53,294.33 456.70,295.00 456.86,295.00 457.02,297.39 457.19,298.23 457.35,298.68 457.51,298.30 457.68,299.15 457.84,300.34 458.00,300.80 458.17,298.80 458.34,297.31 458.51,297.31 458.68,296.56 458.85,294.17 459.02,292.65 459.19,291.32 459.36,288.98 459.53,290.40 459.70,289.20 459.86,289.63 460.02,289.12 460.18,290.33 460.34,288.62 460.50,289.12 460.66,289.62 460.82,291.02 460.98,292.36 461.14,293.95 461.30,294.20 461.47,290.69 461.64,290.50 461.81,289.22 461.99,288.84 462.16,285.58 462.33,283.16 462.50,284.20 462.63,286.12 462.77,290.26 462.90,294.21 463.03,296.38 463.17,298.18 463.30,303.30 463.37,304.79 463.44,307.56 463.51,311.50 463.58,314.52 463.65,316.24 463.72,319.37 463.78,321.77 463.85,327.45 463.92,328.22 463.99,330.63 464.06,333.85 464.13,337.68 464.20,341.70 464.33,337.07 464.47,333.68 464.60,331.04 464.73,328.90 464.87,325.55 465.00,322.52 465.13,319.62 465.27,318.18 465.40,315.89 465.53,314.00 465.67,309.87 465.80,306.70 465.97,308.15 466.14,308.58 466.31,308.48 466.48,308.75 466.65,308.90 466.82,309.81 466.99,310.72 467.16,311.63 467.33,312.72 467.50,315.80 467.62,312.37 467.74,310.30 467.86,306.37 467.98,304.18 468.10,300.76 468.22,296.53 468.34,293.21 468.46,288.97 468.58,287.02 468.70,285.00 468.86,286.73 469.02,286.47 469.18,287.36 469.34,287.66 469.50,287.95 469.66,288.43 469.82,291.02 469.98,292.76 470.14,294.25 470.30,294.20 470.47,292.32 470.64,290.65 470.81,286.84 470.99,284.02 471.16,284.32 471.33,283.32 471.50,280.00 471.57,275.99 471.64,274.33 471.71,272.34 471.79,270.99 471.86,265.03 471.93,263.99 472.00,260.00 472.05,257.03 472.10,253.05 472.15,250.48 472.20,246.30 472.25,244.93 472.30,240.50 472.35,238.30 472.40,235.60 472.45,232.52 472.50,232.34 472.55,229.17 472.60,225.95 472.65,220.35 472.70,218.30 472.79,217.18 472.87,212.89 472.96,208.24 473.04,203.69 473.13,200.45 473.21,199.65 473.30,197.50 473.48,197.02 473.65,199.80 473.82,200.39 474.00,202.07 474.18,202.79 474.35,203.66 474.52,205.46 474.70,206.70 474.82,212.39 474.94,216.42 475.07,219.56 475.19,222.71 475.31,224.45 475.43,229.00 475.56,232.14 475.68,234.64 475.80,235.00 475.98,238.30 476.16,240.12 476.34,242.22 476.52,243.79 476.70,247.50 476.86,243.41 477.02,244.40 477.19,239.87 477.35,238.22 477.51,235.70 477.68,230.38 477.84,228.88 478.00,228.30 478.18,227.44 478.35,230.23 478.52,233.46 478.70,234.75 478.88,235.49 479.05,235.63 479.22,235.36 479.40,240.00 479.56,242.27 479.72,243.74 479.89,246.39 480.05,248.17 480.21,249.15 480.38,251.49 480.54,249.97 480.70,251.20 480.85,246.75 481.00,244.94 481.15,242.07 481.30,240.45 481.45,236.45 481.60,230.58 481.75,230.01 481.90,226.70 482.06,226.74 482.21,223.17 482.37,223.09 482.53,220.09 482.69,220.17 482.84,216.40 483.00,213.30 483.17,215.00 483.34,213.19 483.51,214.86 483.69,217.80 483.86,218.58 484.03,222.11 484.20,225.00 484.29,219.55 484.38,216.93 484.47,212.29 484.56,208.87 484.64,205.73 484.73,202.58 484.82,199.44 484.91,197.05 485.00,196.70 485.16,198.27 485.32,199.62 485.49,202.71 485.65,206.15 485.81,208.41 485.98,211.91 486.14,213.49 486.30,215.00 486.47,218.70 486.64,217.35 486.81,219.75 486.99,221.27 487.16,224.28 487.33,227.48 487.50,228.30 487.67,230.20 487.84,230.98 488.01,230.90 488.19,229.81 488.36,232.96 488.53,234.80 488.70,236.70 488.86,233.25 489.02,231.63 489.19,230.60 489.35,226.04 489.51,223.76 489.68,222.12 489.84,220.25 490.00,218.30 490.16,217.52 490.32,213.74 490.49,212.13 490.65,208.73 490.81,207.56 490.98,205.93 491.14,206.31 491.30,205.00 491.47,205.58 491.63,207.06 491.80,206.74 491.97,205.89 492.13,204.59 492.30,205.17 492.47,204.35 492.63,202.20 492.80,205.80 492.98,208.99 493.15,210.03 493.32,208.09 493.50,213.07 493.68,214.53 493.85,217.26 494.02,219.05 494.20,220.00 494.36,221.19 494.52,220.13 494.68,220.02 494.84,221.06 495.00,219.95 495.16,220.71 495.32,221.29 495.48,222.82 495.64,222.82 495.80,226.70 495.97,230.16 496.14,231.19 496.31,232.50 496.48,231.22 496.65,232.94 496.82,229.49 496.99,231.38 497.16,233.58 497.33,235.17 497.50,235.00 497.67,237.11 497.84,236.67 498.01,239.38 498.18,241.45 498.35,244.68 498.52,243.31 498.69,242.83 498.86,245.58 499.03,243.74 499.20,248.00 499.36,249.99 499.52,251.00 499.69,253.30 499.85,255.42 500.01,256.03 500.18,255.41 500.34,260.52 500.50,260.00 500.67,254.66 500.84,252.37 501.01,250.09 501.19,249.23 501.36,245.53 501.53,246.33 501.70,244.00 501.86,241.42 502.02,239.37 502.18,239.14 502.34,235.49 502.50,234.17 502.66,232.85 502.82,231.53 502.98,232.23 503.14,230.65 503.30,230.80 503.47,230.61 503.64,231.63 503.81,233.66 503.99,236.07 504.16,239.91 504.33,241.95 504.50,245.00 504.66,245.88 504.82,249.75 504.98,252.72 505.14,256.61 505.30,259.20 505.47,256.32 505.64,254.34 505.81,253.42 505.98,252.50 506.15,251.58 506.32,250.66 506.49,249.74 506.66,249.98 506.83,251.03 507.00,250.00 507.16,247.91 507.32,247.22 507.49,243.66 507.65,243.14 507.81,243.20 507.98,242.76 508.14,241.69 508.30,240.00 508.48,237.42 508.66,234.44 508.84,235.74 509.02,233.66 509.20,230.00 509.36,228.52 509.52,226.24 509.68,223.55 509.84,221.77 510.00,220.10 510.16,219.71 510.32,221.84 510.48,219.68 510.64,217.63 510.80,217.00 510.97,221.17 511.14,221.99 511.31,222.98 511.49,226.70 511.66,228.19 511.83,228.45 512.00,228.00 512.16,226.50 512.33,226.91 512.49,226.84 512.65,227.75 512.81,224.99 512.97,225.78 513.14,226.82 513.30,224.00 513.43,230.07 513.56,232.54 513.69,234.08 513.81,237.13 513.94,240.06 514.07,243.30 514.20,245.00 514.36,245.98 514.51,250.66 514.67,252.48 514.83,257.44 514.99,260.49 515.14,262.28 515.30,265.00 515.47,265.04 515.64,263.45 515.81,261.99 515.98,262.75 516.15,261.97 516.32,260.81 516.49,260.75 516.66,256.93 516.83,256.71 517.00,256.70 517.16,258.38 517.33,260.91 517.49,261.84 517.65,264.78 517.81,264.16 517.97,266.58 518.14,266.75 518.30,268.30 518.47,272.74 518.65,273.82 518.83,274.62 519.00,277.34 519.17,278.71 519.35,281.10 519.53,283.21 519.70,286.70 519.86,284.92 520.01,281.30 520.17,278.90 520.33,276.25 520.49,274.47 520.64,271.11 520.80,268.30 520.97,271.61 521.15,274.03 521.33,277.35 521.50,278.90 521.67,283.75 521.85,286.01 522.03,289.59 522.20,292.50 522.37,288.16 522.53,285.49 522.70,282.66 522.87,280.43 523.03,275.51 523.20,271.97 523.37,271.62 523.53,269.92 523.70,265.80 523.86,266.49 524.03,270.24 524.19,272.54 524.35,275.38 524.51,279.60 524.67,283.82 524.84,285.94 525.00,287.50 525.17,286.89 525.34,287.12 525.51,285.57 525.68,284.02 525.85,282.47 526.02,280.92 526.19,279.37 526.36,277.07 526.53,274.52 526.70,272.00 526.86,270.87 527.02,268.50 527.18,265.33 527.34,262.14 527.50,260.61 527.66,258.28 527.82,257.70 527.98,256.14 528.14,254.87 528.30,254.00 528.47,255.38 528.64,253.35 528.81,251.32 528.98,249.23 529.15,248.87 529.32,247.19 529.49,246.07 529.66,243.74 529.83,244.16 530.00,240.00 530.17,238.95 530.34,235.98 530.51,236.82 530.68,235.96 530.85,237.50 531.02,235.75 531.19,234.96 531.36,235.14 531.53,235.81 531.70,236.00 531.86,238.84 532.03,239.05 532.19,239.61 532.35,244.59 532.51,247.41 532.67,248.43 532.84,251.41 533.00,254.00 533.17,257.05 533.33,259.14 533.50,258.53 533.67,261.49 533.83,265.47 534.00,266.02 534.17,267.28 534.33,269.69 534.50,270.80 534.62,266.28 534.75,262.41 534.88,259.95 535.00,256.43 535.12,253.58 535.25,251.46 535.38,249.28 535.50,248.00 535.62,242.87 535.75,239.84 535.88,238.51 536.00,235.58 536.12,233.77 536.25,229.45 536.38,225.06 536.50,224.00 536.67,221.71 536.84,220.50 537.01,220.45 537.18,220.41 537.35,220.35 537.52,220.30 537.69,220.49 537.86,223.27 538.03,223.95 538.20,223.50 538.37,226.61 538.53,228.38 538.70,230.57 538.87,232.59 539.03,235.53 539.20,238.30 539.36,237.82 539.52,240.39 539.68,240.43 539.85,243.36 540.01,245.98 540.17,245.79 540.33,246.25 540.49,247.85 540.65,250.17 540.82,249.71 540.98,252.89 541.14,251.85 541.30,252.00 541.48,251.40 541.66,246.37 541.84,245.75 542.02,242.78 542.20,241.00 542.37,237.03 542.53,234.35 542.70,233.55 542.87,235.09 543.03,233.94 543.20,230.80 543.36,234.34 543.53,234.49 543.69,236.51 543.85,237.67 544.01,236.79 544.17,237.30 544.34,237.15 544.50,238.00 544.66,237.24 544.83,237.42 544.99,239.56 545.15,237.05 545.31,238.44 545.47,237.88 545.64,234.05 545.80,233.50 545.97,236.89 546.13,236.38 546.30,239.87 546.47,244.34 546.63,245.98 546.80,250.00 546.97,252.12 547.13,252.23 547.30,254.39 547.47,255.69 547.63,257.07 547.80,260.62 547.97,262.17 548.13,263.71 548.30,265.00 548.47,262.48 548.65,258.26 548.83,256.38 549.00,254.51 549.17,253.00 549.35,252.87 549.53,250.67 549.70,250.00 549.86,248.55 550.01,247.82 550.17,248.62 550.33,244.16 550.49,245.25 550.64,243.49 550.80,244.00 550.97,242.08 551.14,237.54 551.31,234.16 551.49,232.88 551.66,227.45 551.83,227.58 552.00,225.00 552.16,224.34 552.33,225.64 552.49,228.60 552.65,231.55 552.81,230.83 552.97,232.54 553.14,234.42 553.30,235.00 553.47,235.10 553.64,237.50 553.81,238.31 553.98,240.19 554.15,242.36 554.32,241.78 554.49,243.02 554.66,244.70 554.83,243.36 555.00,243.30 555.17,245.70 555.33,245.47 555.50,246.22 555.67,246.75 555.83,248.22 556.00,249.70 556.17,249.24 556.33,248.01 556.50,250.22 556.67,251.19 556.83,252.65 557.00,255.00 557.16,251.61 557.33,248.91 557.49,247.41 557.65,245.91 557.81,244.41 557.97,244.28 558.14,243.49 558.30,243.00 558.47,240.74 558.63,237.61 558.80,235.00 558.97,233.39 559.13,228.82 559.30,226.00 559.47,223.74 559.63,223.36 559.80,221.57 559.97,214.78 560.13,213.20 560.30,211.70 560.47,210.48 560.65,208.50 560.83,207.93 561.00,205.82 561.17,206.77 561.35,204.88 561.53,203.84 561.70,200.00 561.84,195.85 561.99,191.51 562.13,188.36 562.28,183.93 562.42,181.12 562.57,177.82 562.71,177.84 562.86,174.58 563.00,172.50 563.17,175.15 563.34,176.88 563.51,176.98 563.69,180.75 563.86,178.94 564.03,181.05 564.20,181.70 564.36,183.73 564.51,182.28 564.67,183.58 564.83,185.48 564.99,187.38 565.14,191.52 565.30,195.00 565.46,193.77 565.62,192.30 565.79,190.35 565.95,188.51 566.11,186.81 566.27,184.99 566.44,182.34 566.60,179.50 566.75,184.92 566.90,186.47 567.05,189.61 567.20,193.09 567.35,195.81 567.50,198.30 567.67,198.33 567.84,201.94 568.01,202.31 568.19,204.70 568.36,207.20 568.53,210.75 568.70,215.80 568.86,217.24 569.03,216.69 569.19,215.93 569.35,214.79 569.51,212.10 569.67,210.61 569.84,208.65 570.00,206.70 570.16,205.00 570.33,203.95 570.49,200.17 570.65,194.41 570.81,192.38 570.97,189.19 571.14,187.19 571.30,186.70 571.47,186.13 571.64,184.53 571.81,179.64 571.99,177.72 572.16,172.41 572.33,172.64 572.50,170.00 572.65,164.88 572.80,163.67 572.95,158.10 573.10,158.24 573.25,155.35 573.40,151.50 573.56,156.93 573.71,158.14 573.87,158.08 574.03,159.54 574.19,161.17 574.34,159.91 574.50,160.00 574.67,166.73 574.83,169.40 575.00,171.85 575.17,174.73 575.33,176.90 575.50,176.00 575.67,178.02 575.83,179.61 576.00,182.99 576.17,183.98 576.33,184.39 576.50,187.00 576.63,180.38 576.77,178.39 576.90,175.36 577.03,170.72 577.17,169.59 577.30,168.50 577.40,170.03 577.50,175.25 577.60,173.79 577.70,176.38 577.80,179.32 577.90,187.21 578.00,187.75 578.10,193.89 578.20,195.00 578.37,191.14 578.53,187.12 578.70,185.28 578.87,182.04 579.03,180.07 579.20,178.00 579.38,176.45 579.56,173.67 579.74,170.50 579.92,168.54 580.10,166.00 580.26,167.29 580.42,166.66 580.59,165.41 580.75,167.04 580.91,162.71 581.08,163.54 581.24,161.98 581.40,161.00 581.56,160.40 581.72,158.07 581.88,159.50 582.04,163.39 582.20,164.00 582.36,164.08 582.53,160.42 582.69,157.66 582.85,155.54 583.01,152.47 583.17,155.38 583.34,154.59 583.50,151.20 583.55,154.50 583.60,158.91 583.65,156.83 583.70,162.05 583.75,167.34 583.80,167.11 583.85,171.23 583.90,175.00 583.96,176.57 584.01,178.83 584.07,182.33 584.13,185.59 584.19,188.64 584.24,192.63 584.30,196.70 584.47,193.71 584.64,188.38 584.81,187.61 584.99,183.07 585.16,181.64 585.33,179.43 585.50,178.00 585.66,171.96 585.83,172.95 585.99,172.78 586.15,170.19 586.31,170.21 586.47,168.50 586.64,167.68 586.80,162.00 586.98,158.56 587.16,156.48 587.34,152.35 587.52,151.53 587.70,150.00 587.85,146.77 588.00,141.30 588.15,138.61 588.30,136.77 588.45,133.21 588.60,131.50 588.77,136.73 588.93,137.49 589.10,140.44 589.27,140.75 589.43,143.52 589.60,142.00 589.73,138.84 589.87,134.87 590.00,129.08 590.13,129.56 590.27,126.12 590.40,125.00 590.50,121.37 590.60,118.97 590.70,115.03 590.80,113.00" fill="none" stroke="#1f77b4" stroke-width="3.0" stroke-linejoin="round" stroke-linecap="butt"/>
<g class="t">
<text x="103" y="447.4" textLength="45.6" lengthAdjust="spacingAndGlyphs">2005</text>
<text x="221.8" y="447.4" textLength="45.6" lengthAdjust="spacingAndGlyphs">2010</text>
<text x="340.5" y="447.4" textLength="45.6" lengthAdjust="spacingAndGlyphs">2015</text>
<text x="459.3" y="447.4" textLength="45.6" lengthAdjust="spacingAndGlyphs">2020</text>
</g>
</svg>
</body></html>
